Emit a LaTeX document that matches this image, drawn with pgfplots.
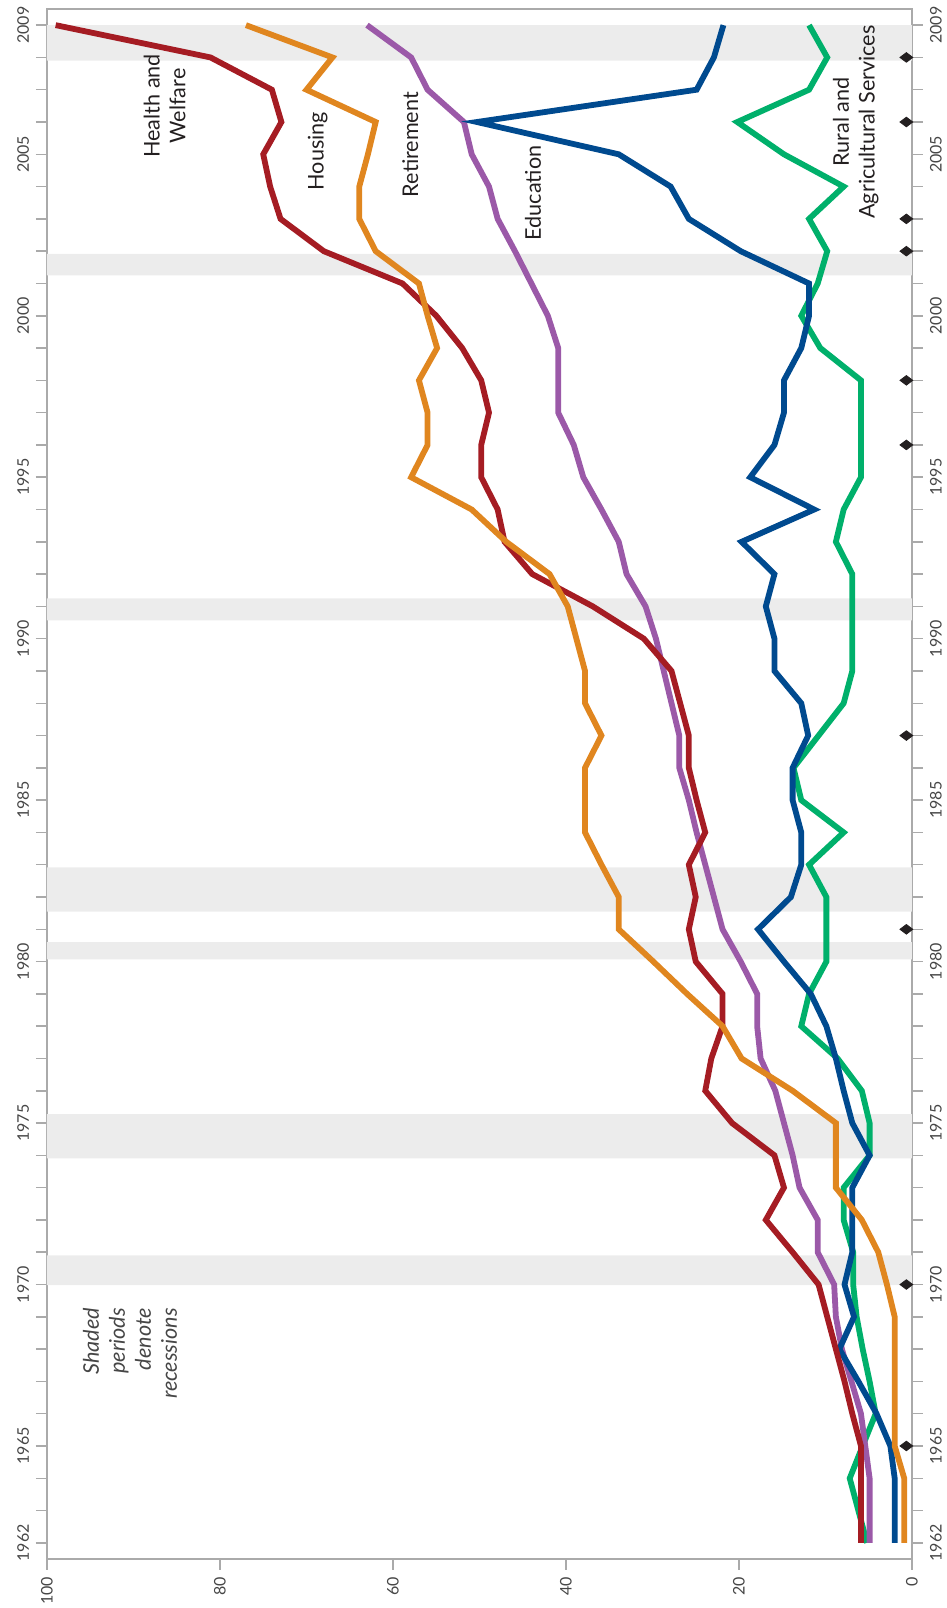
\documentclass[border=0pt]{standalone}
\usepackage{graphicx}
\usepackage{pgfplots}
\usepackage{pgfplotstable}
\pgfplotsset{compat=1.18}
\usepackage{fontspec}
\setmainfont{Lato}

\definecolor{hwcol}{RGB}{165,28,35}
\definecolor{houcol}{RGB}{224,134,31}
\definecolor{retcol}{RGB}{155,89,168}
\definecolor{educol}{RGB}{0,74,143}
\definecolor{rurcol}{RGB}{0,176,107}
\definecolor{shadecol}{RGB}{236,236,236}
\definecolor{framecol}{RGB}{170,170,170}
\definecolor{tickcol}{RGB}{70,70,70}
\definecolor{labcol}{RGB}{35,31,32}

\pgfplotstableread{
year hw hou ret edu rur
1962 5.9 0.9 4.9 2.0 5.2
1963 5.9 0.9 4.9 2.0 6.2
1964 5.9 0.9 4.9 2.0 7.2
1965 5.9 2.0 5.4 2.5 5.7
1966 6.9 2.0 5.9 4.1 4.2
1967 7.8 2.0 7.0 6.2 4.9
1968 8.8 2.0 8.1 8.4 5.7
1969 9.8 2.0 8.8 6.7 6.4
1970 10.8 2.9 9.0 7.8 6.8
1971 13.8 3.9 10.9 6.9 6.8
1972 16.9 5.8 10.9 6.9 7.9
1973 14.8 8.8 13.0 6.9 7.9
1974 15.9 8.8 13.8 4.9 4.9
1975 20.8 8.8 14.8 6.9 4.9
1976 23.9 13.8 15.8 7.9 5.8
1977 23.2 19.7 17.5 8.8 8.6
1978 21.9 21.9 17.9 9.9 12.8
1979 21.9 26.0 17.9 11.7 11.9
1980 25.0 29.9 19.8 14.8 9.9
1981 25.8 33.9 21.9 17.8 9.9
1982 25.0 33.9 22.9 14.0 9.9
1983 25.8 35.9 23.9 12.8 11.9
1984 23.9 37.8 24.9 12.8 7.9
1985 24.9 37.8 25.8 13.8 12.8
1986 25.8 37.8 26.9 13.8 13.7
1987 25.8 35.9 26.9 12.0 10.8
1988 26.8 37.8 27.8 12.8 7.9
1989 27.8 37.8 28.7 15.9 6.9
1990 31.0 38.8 29.6 15.9 6.9
1991 36.9 39.8 30.8 16.9 6.9
1992 43.9 41.9 33.0 15.9 6.9
1993 47.1 46.9 33.9 19.7 8.8
1994 47.9 50.9 35.9 11.3 7.9
1995 49.8 57.9 38.0 18.7 5.9
1996 49.8 56.0 39.1 15.9 5.9
1997 48.9 56.0 40.9 14.8 5.9
1998 49.8 57.0 40.9 14.8 5.9
1999 52.0 54.9 40.9 12.8 10.6
2000 55.0 56.0 42.1 11.9 12.8
2001 58.9 57.0 44.0 11.9 10.9
2002 68.0 62.0 45.9 19.8 9.8
2003 73.0 63.9 47.9 25.8 11.9
2004 74.2 63.9 48.9 27.9 7.9
2005 75.0 62.9 50.9 33.9 14.8
2006 72.9 62.0 51.8 50.3 20.2
2007 74.0 70.0 56.0 24.9 11.9
2008 81.1 67.0 57.9 22.9 9.8
2009 99.0 77.0 63.0 21.8 11.9
}\spending

\pgfplotsset{
  commonaxis/.style={
    scale only axis, width=775pt, height=432.5pt,
    xmin=1961.5, xmax=2009.5, ymin=0, ymax=100,
    xtick={1962,1965,1970,1975,1980,1985,1990,1995,2000,2005,2009},
    xticklabels={1962,1965,1970,1975,1980,1985,1990,1995,2000,2005,2009},
    tick align=outside,
    major tick length=5.5pt, minor tick length=5.5pt,
    tick label style={font=\fontsize{8}{9.6}\selectfont, text=tickcol},
  },
}

\begin{document}
\rotatebox{90}{%
\begin{tikzpicture}
\begin{axis}[commonaxis,
  clip=false,
  axis line style={framecol, line width=0.75pt},
  minor xtick={1962,1963,...,2009},
  xtick pos=both, ytick pos=left,
  ytick={0,20,40,60,80,100},
  yticklabels={0,20,40,60,80,100},
  tick style={framecol, line width=0.75pt},
]
% recession bands
\addplot[fill=shadecol, draw=none] coordinates {(1969.98,0) (1969.98,100) (1970.90,100) (1970.90,0)} \closedcycle;
\addplot[fill=shadecol, draw=none] coordinates {(1973.91,0) (1973.91,100) (1975.28,100) (1975.28,0)} \closedcycle;
\addplot[fill=shadecol, draw=none] coordinates {(1980.07,0) (1980.07,100) (1980.60,100) (1980.60,0)} \closedcycle;
\addplot[fill=shadecol, draw=none] coordinates {(1981.55,0) (1981.55,100) (1982.92,100) (1982.92,0)} \closedcycle;
\addplot[fill=shadecol, draw=none] coordinates {(1990.57,0) (1990.57,100) (1991.25,100) (1991.25,0)} \closedcycle;
\addplot[fill=shadecol, draw=none] coordinates {(2001.25,0) (2001.25,100) (2001.92,100) (2001.92,0)} \closedcycle;
\addplot[fill=shadecol, draw=none] coordinates {(2007.90,0) (2007.90,100) (2009.00,100) (2009.00,0)} \closedcycle;
% series
\addplot[rurcol, line width=2.9pt, mark=none] table[x=year, y=rur] {\spending};
\addplot[retcol, line width=2.9pt, mark=none] table[x=year, y=ret] {\spending};
\addplot[educol, line width=2.9pt, mark=none] table[x=year, y=edu] {\spending};
\addplot[hwcol, line width=2.9pt, mark=none] table[x=year, y=hw] {\spending};
\addplot[houcol, line width=2.9pt, mark=none] table[x=year, y=hou] {\spending};
% markers
\addplot[only marks, mark=diamond*, mark size=3.2pt, color=labcol] coordinates {
(1965,0.65) (1970,0.65) (1981,0.65) (1987,0.65) (1996,0.65)
(1998,0.65) (2002,0.65) (2003,0.65) (2006,0.65) (2008,0.65)};
% labels
\node[font=\fontsize{10.8}{12.9}\selectfont, text=labcol, align=center] at (axis cs:2006.5,86.4) {Health and\\Welfare};
\node[font=\fontsize{10.8}{12.9}\selectfont, text=labcol] at (axis cs:2005.1,68.7) {Housing};
\node[font=\fontsize{10.8}{12.9}\selectfont, text=labcol] at (axis cs:2005.3,58.0) {Retirement};
\node[font=\fontsize{10.8}{12.9}\selectfont, text=labcol] at (axis cs:2003.8,43.8) {Education};
\node[font=\fontsize{10.8}{12.9}\selectfont, text=labcol, align=center] at (axis cs:2006.0,6.5) {Rural and\\Agricultural Services};
\node[font=\fontsize{10.8}{13}\selectfont\itshape, text=tickcol, align=right, anchor=east, inner sep=0pt] at (axis cs:1969.28,90.4) {Shaded\\periods\\denote\\recessions};
\end{axis}
\begin{axis}[commonaxis,
  axis line style={draw=none},
  hide y axis,
  xtick pos=right, xticklabel pos=right,
  xtick style={draw=none},
]
\end{axis}
\pgfresetboundingbox
\path[use as bounding box] (-24.5pt,-17.5pt) rectangle (779.5pt,456pt);
\end{tikzpicture}%
}
\end{document}
